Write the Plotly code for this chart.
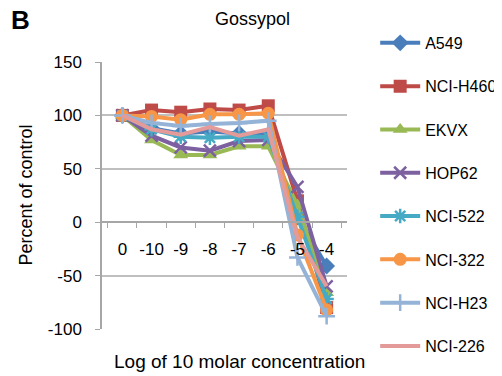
import plotly.graph_objects as go

concentrations = ["0", "-10", "-9", "-8", "-7", "-6", "-5", "-4"]

a549 = [100, 88, 83, 85, 83, 82, 5, -41]
nci_h460 = [100, 105, 103, 106, 105, 109, 20, -80]
ekvx = [100, 77, 63, 63, 71, 71, 16, -66]
hop62 = [100, 81, 70, 67, 76, 77, 33, -60]
nci_522 = [100, 87, 80, 79, 80, 80, 5, -72]
nci_322 = [100, 99, 96, 101, 101, 102, -12, -82]
nci_h23 = [100, 93, 90, 92, 93, 95, -33, -88]
nci_226 = [100, 87, 82, 89, 81, 87, -14, -60]

y_ticks = [-100, -50, 0, 50, 100, 150]
y_tick_text = ["-100", "-50", "0", "50", "100", "150"]

series = [
    ("A549", a549, "#4A7EBB", "diamond"),
    ("NCI-H460", nci_h460, "#BE4B48", "square"),
    ("EKVX", ekvx, "#98B954", "triangle-up"),
    ("HOP62", hop62, "#7D60A0", "x-thin-open"),
    ("NCI-522", nci_522, "#46AAC5", "asterisk-open"),
    ("NCI-322", nci_322, "#F79646", "circle"),
    ("NCI-H23", nci_h23, "#95B3D7", "cross-thin-open"),
    ("NCI-226", nci_226, "#E39A98", None),
]

fig = go.Figure()
for name, vals, color, sym in series:
    if sym is None:
        mode = "lines"
        marker = dict()
    elif sym.endswith("-open"):
        mode = "lines+markers"
        marker = dict(symbol=sym, size=12, color=color, line=dict(color=color, width=2.5))
    else:
        mode = "lines+markers"
        marker = dict(symbol=sym, size=13, color=color)
    fig.add_trace(go.Scatter(
        x=concentrations, y=vals, name=name, mode=mode,
        line=dict(color=color, width=4), marker=marker,
        legendgroup=name,
    ))

# page has an 8px body margin: figure is sized/offset to compensate
fig.update_layout(
    width=494, height=368,
    margin=dict(l=94, r=155, t=54, b=47, autoexpand=False),
    paper_bgcolor="white", plot_bgcolor="white",
    font=dict(family="Liberation Sans, Arial, sans-serif", size=17, color="black"),
    showlegend=True,
    legend=dict(
        x=1.115, xanchor="left", y=1.135, yanchor="top",
        font=dict(size=16, color="black"),
        tracegroupgap=19.5, itemwidth=40, maxheight=1,
        bgcolor="rgba(0,0,0,0)",
    ),
    xaxis=dict(
        type="category", anchor="free", position=0.4,
        showgrid=False, showline=True, linecolor="#A6A6A6", linewidth=1.5,
        ticks="outside", ticklen=5, tickcolor="#A6A6A6", tickson="boundaries",
        ticklabelstandoff=12, zeroline=False, tickangle=0,
        tickfont=dict(size=17, color="black"),
    ),
    yaxis=dict(
        range=[-100, 150], tickvals=y_ticks, ticktext=y_tick_text,
        showgrid=True, gridcolor="#BFBFBF", gridwidth=1.5,
        showline=True, linecolor="#A6A6A6", linewidth=1.5,
        ticks="outside", ticklen=5, tickcolor="#A6A6A6",
        ticklabelstandoff=10,
        zeroline=False, tickfont=dict(size=17, color="black"),
    ),
    annotations=[
        dict(text="<b>B</b>", x=-0.378, y=1.157, xref="paper", yref="paper",
             xanchor="left", yanchor="middle", showarrow=False, font=dict(size=26)),
        dict(text="Gossypol", x=0.616, y=1.161, xref="paper", yref="paper",
             xanchor="center", yanchor="middle", showarrow=False, font=dict(size=18)),
        dict(text="Percent of control", x=-0.314, y=0.5, xref="paper", yref="paper",
             xanchor="center", yanchor="middle", showarrow=False, textangle=-90,
             font=dict(size=18)),
        dict(text="Log of 10 molar concentration", x=0.563, y=-0.122, xref="paper", yref="paper",
             xanchor="center", yanchor="middle", showarrow=False, font=dict(size=19)),
    ],
)

fig.write_html("out.html")
